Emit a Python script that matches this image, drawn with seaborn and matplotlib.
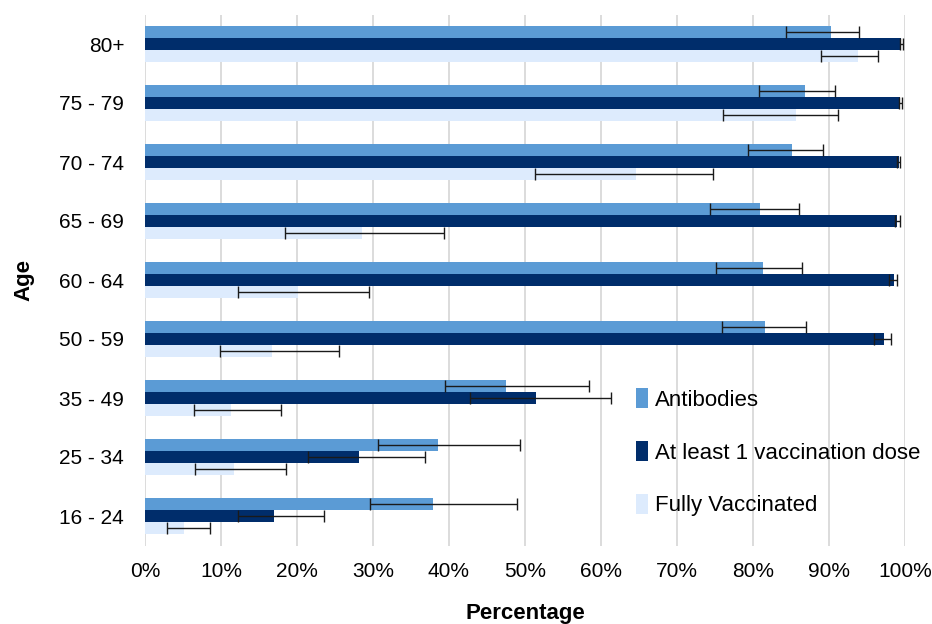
import numpy as np
import pandas as pd
import matplotlib
matplotlib.use("Agg")
import matplotlib.pyplot as plt
import seaborn as sns

# Age bands, top to bottom
ages = ["80+", "75 - 79", "70 - 74", "65 - 69", "60 - 64",
        "50 - 59", "35 - 49", "25 - 34", "16 - 24"]
series = ["Antibodies", "At least 1 vaccination dose", "Fully Vaccinated"]

# Estimates (%) with lower / upper confidence limits
antibodies = [90.3, 86.9, 85.1, 80.9, 81.3, 81.6, 47.5, 38.5, 37.9]
antibodies_lo = [84.3, 80.8, 79.3, 74.4, 75.1, 75.9, 39.5, 30.7, 29.6]
antibodies_hi = [93.9, 90.8, 89.2, 86.0, 86.5, 87.0, 58.4, 49.3, 48.9]

dose1 = [99.5, 99.4, 99.2, 99.0, 98.6, 97.2, 51.5, 28.1, 17.0]
dose1_lo = [99.3, 99.2, 99.0, 98.7, 97.9, 95.9, 42.7, 21.4, 12.2]
dose1_hi = [99.7, 99.6, 99.4, 99.3, 99.0, 98.2, 61.3, 36.8, 23.6]

fully = [93.8, 85.6, 64.6, 28.6, 20.1, 16.7, 11.3, 11.7, 5.1]
fully_lo = [89.0, 76.1, 51.3, 18.4, 12.3, 9.9, 6.5, 6.6, 2.9]
fully_hi = [96.4, 91.2, 74.7, 39.4, 29.5, 25.5, 17.9, 18.5, 8.5]

colors = ["#5B9BD5", "#002D6B", "#DDEBFD"]

df = pd.DataFrame({
    "Age": ages * 3,
    "Series": np.repeat(series, len(ages)),
    "Value": antibodies + dose1 + fully,
    "Lo": antibodies_lo + dose1_lo + fully_lo,
    "Hi": antibodies_hi + dose1_hi + fully_hi,
})

sns.set_theme(style="white")
plt.rcParams["font.family"] = ["Liberation Sans", "DejaVu Sans"]
plt.rcParams["text.color"] = "black"
plt.rcParams["axes.labelcolor"] = "black"

fig = plt.figure(figsize=(9.32, 6.24), dpi=100)
ax = fig.add_axes([145 / 932, 1 - 545.5 / 624, 760 / 932, 531 / 624])

sns.barplot(data=df, x="Value", y="Age", hue="Series", order=ages,
            hue_order=series, palette=colors, orient="h", width=0.61,
            errorbar=None, saturation=1, linewidth=0, ax=ax, legend=True)

# Confidence intervals drawn on each bar's centre
for cont, s in zip(ax.containers, series):
    sub = df[df["Series"] == s].set_index("Age").loc[ages]
    for patch, (_, row) in zip(cont.patches, sub.iterrows()):
        yc = patch.get_y() + patch.get_height() / 2
        ax.errorbar(row["Value"], yc,
                    xerr=[[row["Value"] - row["Lo"]], [row["Hi"] - row["Value"]]],
                    fmt="none", ecolor="#1a1a1a", elinewidth=1.0,
                    capsize=4, capthick=1.0, zorder=5)

ax.set_xlim(0, 100)
ax.set_ylim(len(ages) - 0.5, -0.5)
ax.set_xticks(np.arange(0, 101, 10))
ax.set_xticklabels([f"{v}%" for v in range(0, 101, 10)])
ax.grid(axis="x", color="#D9D9D9", linewidth=1.3)
ax.set_axisbelow(True)
for sp in ax.spines.values():
    sp.set_visible(False)
ax.tick_params(axis="both", length=0, labelsize=15, colors="#000000")
ax.tick_params(axis="y", pad=15)
ax.tick_params(axis="x", pad=12)

ax.set_xlabel("Percentage", fontsize=16, fontweight="bold", labelpad=16)
ax.set_ylabel("Age", fontsize=16, fontweight="bold", labelpad=18)

ax.legend(loc="upper left", bbox_to_anchor=(0.631, 0.317), frameon=False,
          fontsize=16, handlelength=0.55, handleheight=1.0,
          labelspacing=1.36, handletextpad=0.3, borderpad=0, title=None)

fig.savefig("out.png", dpi=100)
